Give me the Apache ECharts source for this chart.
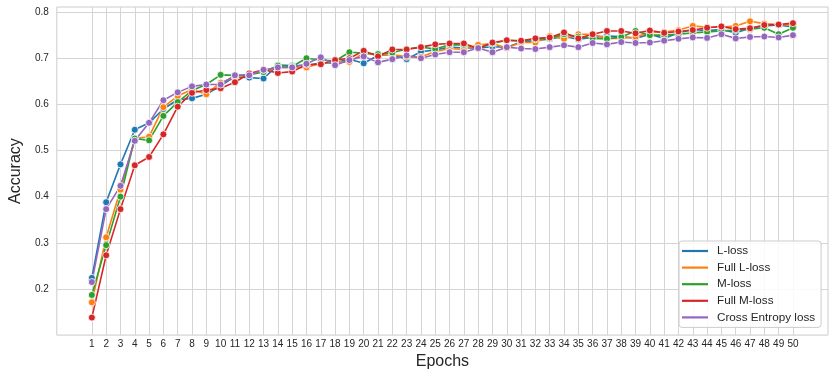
<!DOCTYPE html>
<html>
<head>
<meta charset="utf-8">
<script src="https://cdn.jsdelivr.net/npm/echarts@6/dist/echarts.min.js"></script>
<style>html,body{margin:0;padding:0;background:#fff}#c{width:835px;height:375px}</style>
</head>
<body>
<div id="c"></div>
<script>
const epochs = Array.from({length: 50}, (_, i) => i + 1);
const yTicks = [0.2, 0.3, 0.4, 0.5, 0.6, 0.7, 0.8];
const seriesNames = ['L-loss', 'Full L-loss', 'M-loss', 'Full M-loss', 'Cross Entropy loss'];

const lLoss = [0.224,0.388,0.470,0.545,0.560,0.590,0.610,0.613,0.622,0.640,0.660,0.658,0.656,0.685,0.684,0.684,0.690,0.690,0.698,0.689,0.706,0.708,0.698,0.714,0.718,0.724,0.722,0.722,0.725,0.724,0.735,0.738,0.742,0.747,0.741,0.745,0.748,0.747,0.743,0.752,0.743,0.755,0.762,0.760,0.762,0.755,0.765,0.770,0.772,0.768];
const fullLLoss = [0.171,0.312,0.415,0.526,0.530,0.594,0.618,0.632,0.622,0.647,0.660,0.664,0.672,0.680,0.680,0.680,0.689,0.692,0.692,0.711,0.707,0.708,0.703,0.703,0.714,0.721,0.719,0.729,0.732,0.722,0.734,0.734,0.748,0.742,0.752,0.752,0.743,0.743,0.746,0.756,0.757,0.761,0.770,0.767,0.767,0.770,0.780,0.775,0.773,0.772];
const mLoss = [0.187,0.295,0.400,0.526,0.522,0.575,0.605,0.630,0.643,0.664,0.663,0.664,0.670,0.684,0.682,0.700,0.696,0.694,0.713,0.711,0.709,0.712,0.720,0.724,0.720,0.729,0.729,0.722,0.732,0.739,0.737,0.741,0.743,0.752,0.747,0.743,0.742,0.746,0.759,0.750,0.750,0.752,0.755,0.757,0.759,0.761,0.763,0.766,0.752,0.766];
const fullMLoss = [0.138,0.273,0.373,0.468,0.486,0.535,0.595,0.625,0.631,0.635,0.648,0.667,0.675,0.668,0.671,0.686,0.687,0.696,0.700,0.716,0.704,0.719,0.719,0.724,0.730,0.732,0.732,0.721,0.734,0.739,0.738,0.743,0.745,0.756,0.743,0.752,0.759,0.759,0.754,0.760,0.755,0.758,0.761,0.766,0.769,0.763,0.765,0.772,0.773,0.776];
const crossEntropy = [0.215,0.373,0.4235,0.521,0.560,0.609,0.626,0.639,0.643,0.643,0.663,0.663,0.675,0.680,0.680,0.688,0.702,0.685,0.696,0.704,0.691,0.698,0.706,0.700,0.708,0.713,0.713,0.722,0.713,0.724,0.721,0.720,0.724,0.728,0.724,0.733,0.730,0.735,0.733,0.734,0.738,0.742,0.745,0.744,0.752,0.743,0.746,0.747,0.745,0.750];

const allValues = [lLoss, fullLLoss, mLoss, fullMLoss, crossEntropy];
const colors = ['#1f77b4', '#ff7f0e', '#2ca02c', '#d62728', '#9467bd'];
const FONT = 'Liberation Sans, Arial, sans-serif';

const chart = echarts.init(document.getElementById('c'), null, {renderer: 'canvas'});
chart.setOption({
  animation: false,
  backgroundColor: '#ffffff',
  grid: {left: 47.7, right: 7, top: 7, bottom: 39.5, show: true, borderColor: '#cccccc', borderWidth: 1, backgroundColor: 'transparent'},
  xAxis: {
    type: 'value', min: -1.45, max: 52.45,
    name: 'Epochs', nameLocation: 'middle', nameGap: 14,
    nameTextStyle: {fontFamily: FONT, fontSize: 16, color: '#262626'},
    axisLine: {show: false},
    axisTick: {show: false, customValues: epochs},
    axisLabel: {customValues: epochs, fontFamily: FONT, fontSize: 10, color: '#262626', margin: 4},
    splitLine: {show: true, lineStyle: {color: '#d5d5d5', width: 1}}
  },
  yAxis: {
    type: 'value', min: 0.1, max: 0.811,
    name: 'Accuracy', nameLocation: 'middle', nameGap: 28,
    nameTextStyle: {fontFamily: FONT, fontSize: 16, color: '#262626'},
    axisLine: {show: false},
    axisTick: {show: false, customValues: yTicks},
    axisLabel: {customValues: yTicks, fontFamily: FONT, fontSize: 10, color: '#262626', margin: 8,
      formatter: v => v.toFixed(1)},
    splitLine: {show: true, lineStyle: {color: '#d5d5d5', width: 1}}
  },
  legend: {
    orient: 'vertical', left: 679, top: 241,
    backgroundColor: 'rgba(255,255,255,0.85)', borderColor: '#cccccc', borderWidth: 1, borderRadius: 3,
    padding: [3, 6, 3, 3],
    itemWidth: 26, itemHeight: 2.2, itemGap: 2.6,
    icon: 'rect',
    itemStyle: {borderWidth: 0},
    textStyle: {fontFamily: FONT, fontSize: 11.7, color: '#262626', lineHeight: 14, padding: [0, 0, 0, 4]},
    data: seriesNames
  },
  series: seriesNames.map((name, i) => ({
    name: name, type: 'line',
    data: epochs.map((e, j) => [e, allValues[i][j]]),
    color: colors[i],
    symbol: 'circle', symbolSize: 7, showSymbol: true,
    lineStyle: {width: 1.6, color: colors[i]},
    itemStyle: {color: colors[i], borderColor: '#ffffff', borderWidth: 0.8},
    emphasis: {disabled: true}
  }))
});
</script>
</body>
</html>
